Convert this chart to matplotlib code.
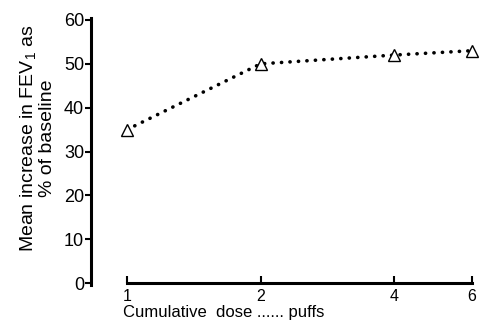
import matplotlib
matplotlib.use('Agg')
import matplotlib.pyplot as plt

# cumulative dose (puffs) and mean FEV1 increase (% of baseline)
doses = [1, 2, 4, 6]
fev_increase = [35, 50, 52, 53]
x_ticks = [1, 2, 4, 6]
x_ticklabels = ['1', '2', '4', '6']
y_ticks = [0, 10, 20, 30, 40, 50, 60]

plt.rcParams['font.family'] = ['Liberation Sans', 'DejaVu Sans']

fig = plt.figure(figsize=(4.92, 3.21), dpi=100)
W, H = 492, 321
ax = fig.add_axes([91 / W, 1 - 283 / H, (480 - 91) / W, (283 - 20) / H])

ax.plot(doses, fev_increase, color='black', lw=2.6,
        linestyle=(0, (0.05, 2.3)), dash_capstyle='round', zorder=2)
ax.plot(doses, fev_increase, linestyle='none', marker='^', ms=8,
        mfc='white', mec='black', mew=1.0, zorder=3)

ax.set_xscale('log', base=2)
ax.set_xlim(2 ** (-36 / 133), 2 ** (2.585 + 8 / 133))
ax.set_ylim(0, 60)

ax.spines['top'].set_visible(False)
ax.spines['right'].set_visible(False)
ax.spines['left'].set_linewidth(2.2)
ax.spines['bottom'].set_linewidth(2.2)
ax.spines['bottom'].set_bounds(1, 6)
ax.spines['left'].set_bounds(-0.5, 60.5)

ax.set_xticks(x_ticks)
ax.set_xticklabels(x_ticklabels)
ax.minorticks_off()
ax.set_yticks(y_ticks)
ax.tick_params(axis='x', direction='in', length=5, width=1.5, pad=4,
               labelsize=11.5)
ax.tick_params(axis='y', direction='out', length=4, width=1.5, pad=1,
               labelsize=13)

ax.set_ylabel('Mean increase in FEV$_\\mathregular{1}$ as\n% of baseline',
              fontsize=14, linespacing=1.0)
ax.yaxis.set_label_coords(-35 / (480 - 91), 0.55)

fig.text(123 / W, 1 - 312 / H, 'Cumulative  dose ...... puffs',
         fontsize=12, ha='left', va='center')

fig.savefig('out.png', dpi=100)
